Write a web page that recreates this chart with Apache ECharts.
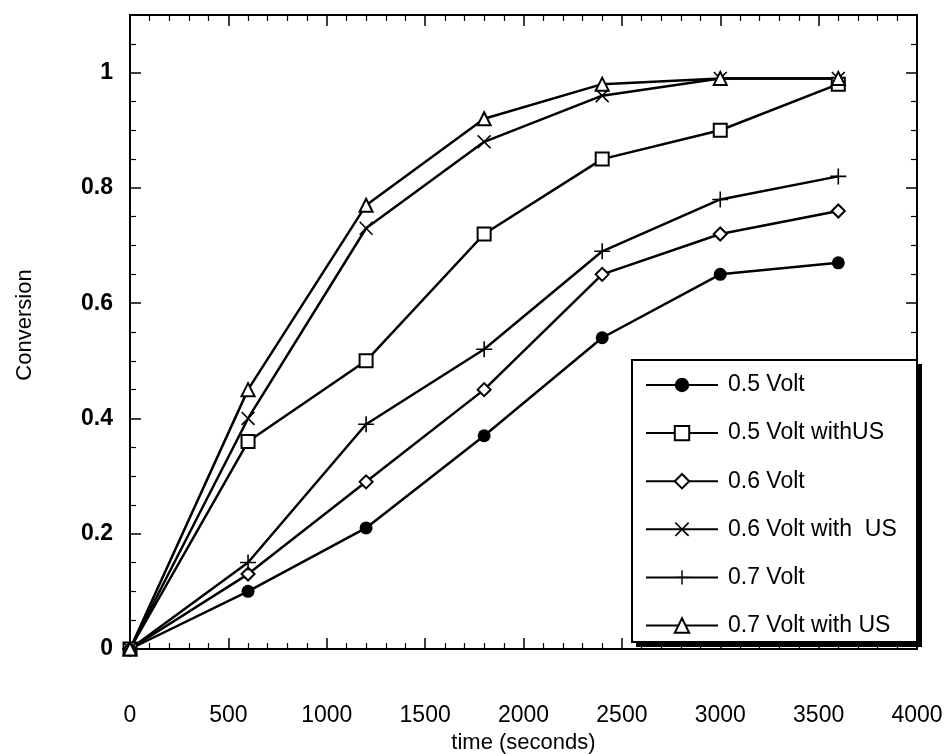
<!DOCTYPE html>
<html>
<head>
<meta charset="utf-8">
<script src="https://cdn.jsdelivr.net/npm/echarts@6/dist/echarts.min.js"></script>
<style>
html,body{margin:0;padding:0;background:#fff;}
#c{width:946px;height:754px;}
</style>
</head>
<body>
<div id="c"></div>
<script>
var times = [0, 600, 1200, 1800, 2400, 3000, 3600];
var seriesNames = ['0.5 Volt', '0.5 Volt withUS', '0.6 Volt', '0.6 Volt with  US', '0.7 Volt', '0.7 Volt with US'];
var v05 = [0, 0.10, 0.21, 0.37, 0.54, 0.65, 0.67];
var v05US = [0, 0.36, 0.50, 0.72, 0.85, 0.90, 0.98];
var v06 = [0, 0.13, 0.29, 0.45, 0.65, 0.72, 0.76];
var v06US = [0, 0.40, 0.73, 0.88, 0.96, 0.99, 0.99];
var v07 = [0, 0.15, 0.39, 0.52, 0.69, 0.78, 0.82];
var v07US = [0, 0.45, 0.77, 0.92, 0.98, 0.99, 0.99];
var xTitle = 'time (seconds)';
var yTitle = 'Conversion';

var FONT = '"Liberation Sans", Arial, sans-serif';
var crossX = 'path://M0,0.8L0.8,0L5,4.2L9.2,0L10,0.8L5.8,5L10,9.2L9.2,10L5,5.8L0.8,10L0,9.2L4.2,5Z';
var plus = 'path://M4.5,0H5.5V4.5H10V5.5H5.5V10H4.5V5.5H0V4.5H4.5Z';

function pts(vals) { return times.map(function (t, i) { return [t, vals[i]]; }); }

var defs = [
  { data: v05, symbol: 'circle', size: 13, bw: 0 },
  { data: v05US, symbol: 'emptyRect', size: 13, bw: 1.5 },
  { data: v06, symbol: 'emptyDiamond', size: 13, bw: 1.5 },
  { data: v06US, symbol: crossX, size: 14, bw: 0 },
  { data: v07, symbol: plus, size: 16, bw: 0 },
  { data: v07US, symbol: 'emptyTriangle', size: 13, bw: 1.5 }
];

var series = defs.map(function (d, i) {
  return {
    name: seriesNames[i],
    type: 'line',
    data: pts(d.data),
    symbol: d.symbol,
    symbolSize: d.size,
    showAllSymbol: true,
    lineStyle: { color: '#000', width: 2.5 },
    itemStyle: { color: '#000', borderColor: '#000', borderWidth: d.bw },
    emphasis: { disabled: true },
    animation: false,
    z: 3
  };
});

var axisLine = { show: true, onZero: false, lineStyle: { color: '#000', width: 2 } };
var tick = { show: true, inside: true, length: 11, lineStyle: { color: '#000', width: 1.5 } };
var minor = { show: true, length: 6, lineStyle: { color: '#000', width: 1.2 } };

var option = {
  backgroundColor: '#fff',
  animation: false,
  grid: { left: 130, top: 15, right: 29, bottom: 105, containLabel: false, outerBoundsMode: 'none' },
  graphic: [
    { type: 'rect', z: 5, silent: true, shape: { x: 636, y: 364, width: 286, height: 283 }, style: { fill: '#000' } },
    { type: 'rect', z: 6, silent: true, shape: { x: 632, y: 360, width: 285, height: 282 }, style: { fill: '#fff', stroke: '#000', lineWidth: 2 } }
  ],
  legend: {
    orient: 'vertical',
    left: 632,
    top: 360,
    z: 10,
    data: seriesNames,
    itemWidth: 72,
    itemHeight: 18,
    itemGap: 24.1,
    padding: [13, 8, 10, 13],
    textStyle: { color: '#000', fontFamily: FONT, fontSize: 23, lineHeight: 24, padding: [0, 0, 0, 5] },
    selectedMode: false
  },
  xAxis: [{
    type: 'value', min: 0, max: 4000, interval: 500,
    position: 'bottom',
    axisLine: axisLine, axisTick: tick, minorTick: Object.assign({ splitNumber: 5 }, minor),
    splitLine: { show: false },
    axisLabel: { color: '#000', fontFamily: FONT, fontSize: 23, margin: 55, formatter: function (v) { return String(v); } },
    name: xTitle, nameLocation: 'middle', nameGap: 80,
    nameTextStyle: { color: '#000', fontFamily: FONT, fontSize: 22 }
  }, {
    type: 'value', min: 0, max: 4000, interval: 500,
    position: 'top',
    axisLine: axisLine, axisTick: tick, minorTick: Object.assign({ splitNumber: 5 }, minor),
    splitLine: { show: false }, axisLabel: { show: false }
  }],
  yAxis: [{
    type: 'value', min: 0, max: 1.1, interval: 0.2,
    position: 'left',
    axisLine: axisLine, axisTick: tick, minorTick: Object.assign({ splitNumber: 4 }, minor),
    splitLine: { show: false },
    axisLabel: {
      color: '#000', fontFamily: FONT, fontSize: 23, fontWeight: 'bold', margin: 17,
      showMaxLabel: false,
      formatter: function (v) { return String(Math.round(v * 10) / 10); }
    },
    name: yTitle, nameLocation: 'middle', nameGap: 94,
    nameTextStyle: { color: '#000', fontFamily: FONT, fontSize: 22, padding: [0, 0, 0, 14] }
  }, {
    type: 'value', min: 0, max: 1.1, interval: 0.2,
    position: 'right',
    axisLine: axisLine, axisTick: tick, minorTick: Object.assign({ splitNumber: 4 }, minor),
    splitLine: { show: false }, axisLabel: { show: false }
  }],
  series: series
};

var chart = echarts.init(document.getElementById('c'), null, { renderer: 'canvas' });
chart.setOption(option);
</script>
</body>
</html>
